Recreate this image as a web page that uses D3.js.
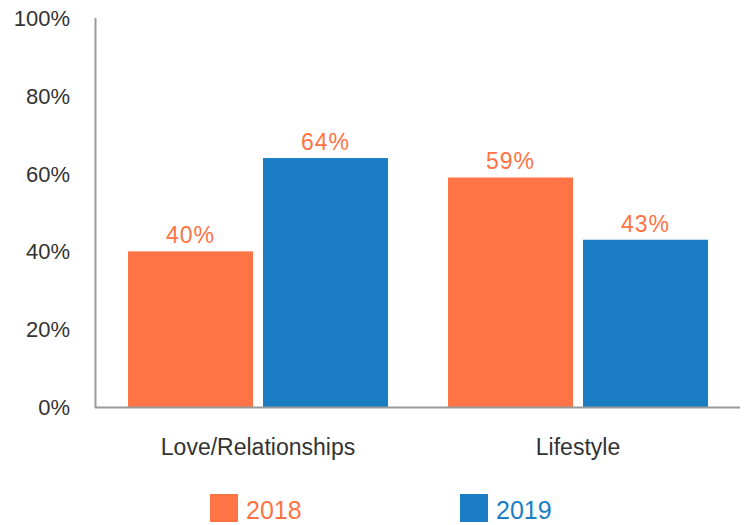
<!DOCTYPE html>
<html>
<head>
<meta charset="utf-8">
<script src="https://d3js.org/d3.v7.min.js"></script>
<style>
  body { margin: 0; background: #fff; }
  text { font-family: "Liberation Sans", Arial, sans-serif; }
</style>
</head>
<body>
<div id="container"></div>
<script>
// data
var categories = ["Love/Relationships", "Lifestyle"];
var seriesNames = ["2018", "2019"];
var values2018 = [40, 59];
var values2019 = [64, 43];
var yTicks = [0, 20, 40, 60, 80, 100];
var colors = ["#FF7344", "#1B7EC4"];
var labelColor = "#FF7344";

var width = 744, height = 525;

var svg = d3.select("#container").append("svg")
    .attr("width", width)
    .attr("height", height);

var y = d3.scaleLinear().domain([0, 100]).range([407, 18]);

var x0 = d3.scaleBand()
    .domain(categories)
    .range([98, 738])
    .paddingInner(0.1875)
    .paddingOuter(0.09375);

var x1 = d3.scaleBand()
    .domain(seriesNames)
    .range([0, x0.bandwidth()])
    .paddingInner(0.074);

var color = d3.scaleOrdinal().domain(seriesNames).range(colors);

var rows = [];
categories.forEach(function(c, i) {
  rows.push({cat: c, s: "2018", v: values2018[i]});
  rows.push({cat: c, s: "2019", v: values2019[i]});
});

// y tick labels
svg.selectAll("text.ytick")
  .data(yTicks)
  .enter().append("text")
  .attr("class", "ytick")
  .attr("x", 70)
  .attr("y", function(d) { return y(d); })
  .attr("dy", "0.36em")
  .attr("text-anchor", "end")
  .style("font-size", "22px")
  .style("fill", "#333")
  .text(function(d) { return d + "%"; });

// bars
svg.selectAll("rect.bar")
  .data(rows)
  .enter().append("rect")
  .attr("class", "bar")
  .attr("x", function(d) { return x0(d.cat) + x1(d.s); })
  .attr("y", function(d) { return y(d.v); })
  .attr("width", x1.bandwidth())
  .attr("height", function(d) { return y(0) - y(d.v); })
  .style("fill", function(d) { return color(d.s); });

// value labels (all orange, as in the original)
svg.selectAll("text.val")
  .data(rows)
  .enter().append("text")
  .attr("class", "val")
  .attr("x", function(d) { return x0(d.cat) + x1(d.s) + x1.bandwidth() / 2; })
  .attr("y", function(d) { return y(d.v) - 8; })
  .attr("text-anchor", "middle")
  .style("font-size", "23px")
  .style("letter-spacing", "1px")
  .style("fill", labelColor)
  .text(function(d) { return d.v + "%"; });

// axes lines
svg.append("line")
  .attr("x1", 95.5).attr("x2", 95.5)
  .attr("y1", y(100)).attr("y2", y(0) + 1)
  .style("stroke", "#999").style("stroke-width", 2);
svg.append("line")
  .attr("x1", 95).attr("x2", 740)
  .attr("y1", y(0) + 0.5).attr("y2", y(0) + 0.5)
  .style("stroke", "#999").style("stroke-width", 2);

// category labels
svg.selectAll("text.cat")
  .data(categories)
  .enter().append("text")
  .attr("class", "cat")
  .attr("x", function(d) { return x0(d) + x0.bandwidth() / 2; })
  .attr("y", 455)
  .attr("text-anchor", "middle")
  .style("font-size", "23px")
  .style("fill", "#333")
  .text(function(d) { return d; });

// legend
var legendX = [210, 460];
var legend = svg.selectAll("g.legend")
  .data(seriesNames)
  .enter().append("g")
  .attr("class", "legend")
  .attr("transform", function(d, i) { return "translate(" + legendX[i] + ",494)"; });

legend.append("rect")
  .attr("width", 28)
  .attr("height", 28)
  .style("fill", function(d) { return color(d); });

legend.append("text")
  .attr("x", 36)
  .attr("y", 25)
  .style("font-size", "25px")
  .style("fill", function(d) { return color(d); })
  .text(function(d) { return d; });
</script>
</body>
</html>
